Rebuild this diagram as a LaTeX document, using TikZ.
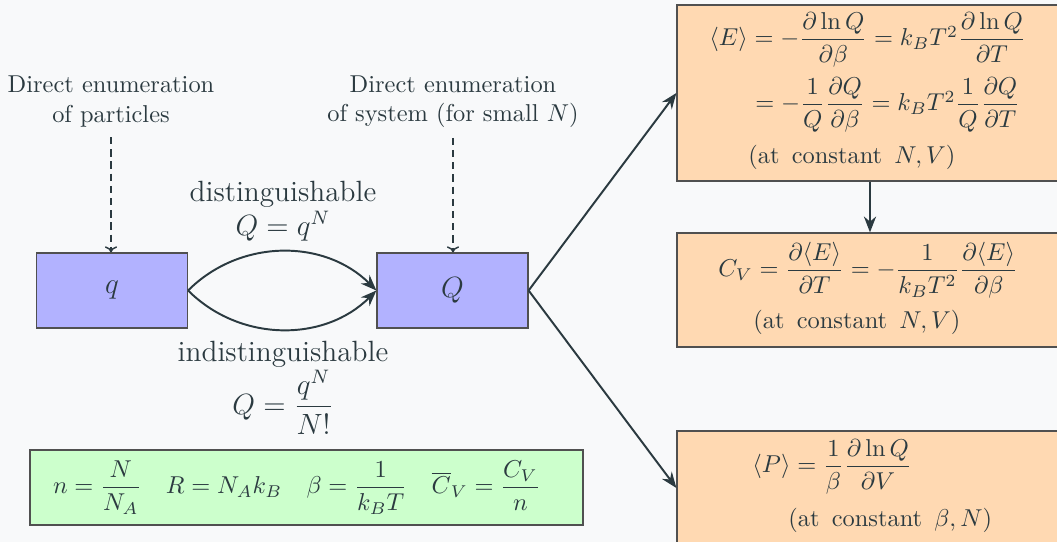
\documentclass[tikz,border=0pt]{standalone}
\usepackage{amsmath}
\usetikzlibrary{arrows.meta}
\definecolor{cBg}{HTML}{F8F9FA}
\definecolor{cInk}{HTML}{2B3A40}
\definecolor{cLine}{HTML}{505050}
\definecolor{cBlue}{RGB}{178,178,255}
\definecolor{cOrange}{RGB}{255,217,178}
\definecolor{cGreen}{RGB}{204,255,204}
\newcommand\px{0.4098pt}
\begin{document}
\begin{tikzpicture}[x=0.4098pt,y=-0.4098pt,
  every node/.style={text=cInk},
  box/.style={draw=cLine, line width=0.5pt, inner sep=0pt},
  partbox/.style={box, fill=cBlue, minimum width=151*\px, minimum height=75*\px, font=\large},
  resbox/.style={box, fill=cOrange, minimum width=386*\px},
  conn/.style={draw=cInk, line width=0.8pt, -{Stealth[length=6.5pt,width=5pt]}},
  dasharrow/.style={draw=cInk, line width=0.6pt, dash pattern=on 3pt off 2pt, -{To[length=2.5pt,width=5pt]}},
  lbl/.style={align=center, inner sep=0pt},
  eq/.style={anchor=west, inner sep=0pt}
]
\fill[cBg] (0,0) rectangle (1057,542);
\useasboundingbox (0,0) rectangle (1057,542);

% particle / system boxes
\node[partbox] (q) at (112,290.5) {$q$};
\node[partbox] (Q) at (452.5,290.5) {$Q$};

% enumeration labels
\node[lbl] (lp) at (111,101.5) {Direct enumeration\\of particles};
\node[lbl] (ls) at (453,101.5) {Direct enumeration\\of system (for small $N$)};
\draw[dasharrow, shorten <=4pt] (lp.south) -- (lp.south |- q.north);
\draw[dasharrow, shorten <=4pt] (ls.south) -- (ls.south |- Q.north);

% q -> Q curves
\draw[conn] (q.east) to[bend left=45] (Q.west);
\draw[conn] (q.east) to[bend right=45] (Q.west);
\node[lbl, font=\large] (dist) at (283,211) {distinguishable\\$Q=q^N$};
\node[lbl, font=\large] (indist) at (283,388) {indistinguishable\\$Q=\dfrac{q^N}{N!}$};

% result boxes
\node[resbox, minimum height=176*\px] (E) at (870,93) {};
\node[resbox, minimum height=114*\px] (C) at (870,290) {};
\node[resbox, minimum height=114*\px] (P) at (870,488) {};

\draw[conn] (Q.east) -- (E.west);
\draw[conn] (Q.east) -- (P.west);
\draw[conn] (E.south) -- (C.north);

% equations
\node[eq] (e1) at (709,40) {$\langle E\rangle = -\dfrac{\partial\ln Q}{\partial\beta} = k_BT^2\dfrac{\partial\ln Q}{\partial T}$};
\node[eq] (e2) at (755,105) {$= -\dfrac{1}{Q}\dfrac{\partial Q}{\partial\beta} = k_BT^2\dfrac{1}{Q}\dfrac{\partial Q}{\partial T}$};
\node[eq] (e3) at (748,157) {(at\enspace constant\enspace $N,V$)};
\node[eq] (c1) at (718,270) {$C_V = \dfrac{\partial\langle E\rangle}{\partial T} = -\dfrac{1}{k_BT^2}\dfrac{\partial\langle E\rangle}{\partial\beta}$};
\node[eq] (c2) at (753,322) {(at\enspace constant\enspace $N,V$)};
\node[eq] (p1) at (752,467) {$\langle P\rangle = \dfrac{1}{\beta}\dfrac{\partial\ln Q}{\partial V}$};
\node[eq] (p2) at (788,520) {(at\enspace constant\enspace $\beta,N$)};

% definitions
\node[box, fill=cGreen, minimum width=553*\px, minimum height=75*\px, text width=507*\px, align=left] (defs) at (306.5,487.5)
  {$n=\dfrac{N}{N_A}\quad R=N_Ak_B\quad \beta=\dfrac{1}{k_BT}\quad \overline{C}_V=\dfrac{C_V}{n}$};
\end{tikzpicture}
\end{document}
